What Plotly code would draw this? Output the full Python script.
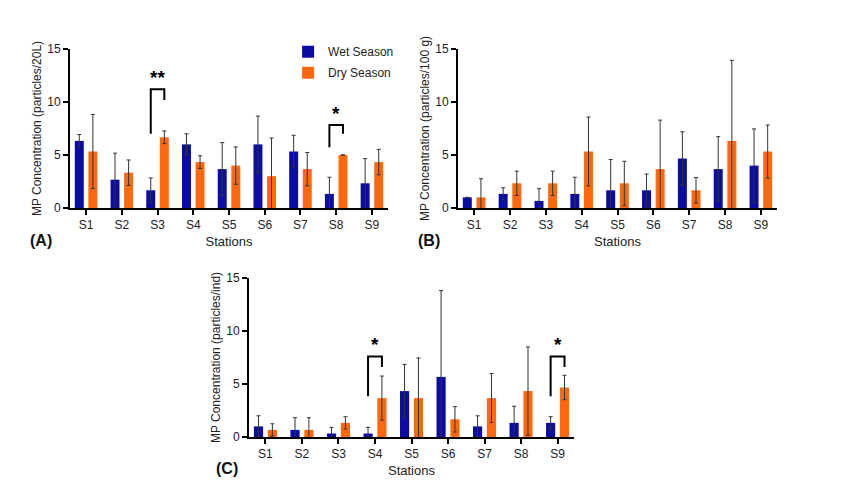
import plotly.graph_objects as go

stations = ["S1", "S2", "S3", "S4", "S5", "S6", "S7", "S8", "S9"]

# (A) water, particles/20L
wet_a = [6.33, 2.67, 1.67, 6.0, 3.67, 6.0, 5.33, 1.33, 2.33]
wet_a_err = [0.6, 2.5, 1.17, 1.0, 2.5, 2.67, 1.53, 1.57, 2.33]
dry_a = [5.33, 3.33, 6.67, 4.33, 4.0, 3.0, 3.67, 5.0, 4.33]
dry_a_err = [3.5, 1.2, 0.6, 0.6, 1.76, 3.6, 1.57, None, 1.2]

# (B) sediment, particles/100 g
wet_b = [1.0, 1.33, 0.67, 1.33, 1.67, 1.67, 4.67, 3.67, 4.0]
wet_b_err = [None, 0.58, 1.15, 1.57, 2.9, 1.53, 2.52, 3.06, 3.46]
dry_b = [1.0, 2.33, 2.33, 5.33, 2.33, 3.67, 1.67, 6.33, 5.33]
dry_b_err = [1.76, 1.15, 1.15, 3.25, 2.08, 4.62, 1.2, 7.6, 2.5]

# (C) biota, particles/ind
wet_c = [1.0, 0.67, 0.33, 0.33, 4.33, 5.67, 1.0, 1.33, 1.33]
wet_c_err = [1.0, 1.15, 0.58, 0.58, 2.52, 8.14, 1.0, 1.57, 0.58]
dry_c = [0.67, 0.67, 1.33, 3.67, 3.67, 1.67, 3.67, 4.33, 4.67]
dry_c_err = [0.58, 1.15, 0.58, 2.08, 3.79, 1.2, 2.31, 4.16, 1.15]

# significance brackets: panel, station index, left leg bottom, right leg bottom, top, label
brackets = [
    ("A", 2, 7.0, 10.2, 11.2, "**"),
    ("A", 7, 5.74, 7.0, 7.84, "*"),
    ("C", 3, 3.84, 6.6, 7.6, "*"),
    ("C", 8, 3.84, 6.6, 7.6, "*"),
]

WET = "#0b0ba6"
DRY = "#ff680f"
FONT = "Liberation Sans, Arial, sans-serif"

panels = [
    ("A", "x", "y", wet_a, wet_a_err, dry_a, dry_a_err, "MP Concentration (particles/20L)"),
    ("B", "x2", "y2", wet_b, wet_b_err, dry_b, dry_b_err, "MP Concentration (particles/100 g)"),
    ("C", "x3", "y3", wet_c, wet_c_err, dry_c, dry_c_err, "MP Concentration (particles/ind)"),
]

fig = go.Figure()
xs = list(range(len(stations)))
for name, xa, ya, wet, wet_err, dry, dry_err, ytitle in panels:
    first = name == "A"
    fig.add_trace(go.Bar(x=xs, y=wet, name="Wet Season", marker_color=WET,
                         marker_line_width=0, xaxis=xa, yaxis=ya, offsetgroup="wet",
                         legendgroup="wet", showlegend=first,
                         error_y=dict(type="data", array=wet_err, color="#333333",
                                      thickness=1, width=2)))
    fig.add_trace(go.Bar(x=xs, y=dry, name="Dry Season", marker_color=DRY,
                         marker_line_width=0, xaxis=xa, yaxis=ya, offsetgroup="dry",
                         legendgroup="dry", showlegend=first,
                         error_y=dict(type="data", array=dry_err, color="#333333",
                                      thickness=1, width=2)))

axis_common = dict(showline=True, linecolor="black", linewidth=2, ticks="outside",
                   ticklen=5, tickwidth=2, tickcolor="black", showgrid=False,
                   zeroline=False, automargin=False, tickfont=dict(size=12, color="#222"))

domains = {
    "A": ([70 / 860, 388 / 860], [1 - 208 / 496, 1 - 49 / 496]),
    "B": ([458 / 860, 777 / 860], [1 - 208 / 496, 1 - 49 / 496]),
    "C": ([249 / 860, 574 / 860], [1 - 437 / 496, 1 - 278 / 496]),
}
suffix = {"A": "", "B": "2", "C": "3"}
for name, xa, ya, wet, wet_err, dry, dry_err, ytitle in panels:
    s = suffix[name]
    xd, yd = domains[name]
    fig.update_layout(**{
        "xaxis" + s: dict(axis_common, domain=xd, anchor="y" + s, range=[-0.45, 8.45],
                          tickvals=xs, ticktext=stations,
                          title=dict(text="Stations", standoff=5,
                                     font=dict(size=13, color="#222"))),
        "yaxis" + s: dict(axis_common, domain=yd, anchor="x" + s, range=[0, 15],
                          tickvals=[0, 5, 10, 15],
                          title=dict(text=ytitle, standoff=3,
                                     font=dict(size=12, color="#222"))),
    })

# brackets and stars
for name, i, left_y, right_y, top_y, label in brackets:
    s = suffix[name]
    xl, xr = i - 0.19, i + 0.19
    fig.add_shape(type="path", xref="x" + s, yref="y" + s,
                  path=f"M {xl} {left_y} L {xl} {top_y} L {xr} {top_y} L {xr} {right_y}",
                  line=dict(color="black", width=2))
    fig.add_annotation(x=i, y=top_y, xref="x" + s, yref="y" + s, text=f"<b>{label}</b>",
                       showarrow=False, yanchor="bottom", yshift=-1,
                       font=dict(size=19, color="black"))

# panel letters
for label, px, py in [("(A)", 41, 240), ("(B)", 429, 240), ("(C)", 227, 468)]:
    fig.add_annotation(x=px / 860, y=1 - py / 496, xref="paper", yref="paper",
                       xanchor="center", yanchor="middle",
                       text=f"<b>{label}</b>", showarrow=False,
                       font=dict(size=16, color="#111"))

fig.update_layout(
    width=860, height=496,
    margin=dict(l=0, r=0, t=0, b=0),
    paper_bgcolor="white", plot_bgcolor="white",
    font=dict(family=FONT, color="#222"),
    barmode="group", bargap=0.24, bargroupgap=0.34,
    legend=dict(x=0.335, y=0.925, xanchor="left", yanchor="top",
                font=dict(size=12, color="#222"), bgcolor="rgba(0,0,0,0)",
                tracegroupgap=2),
    showlegend=True,
)

# the page's default body margin would shift the figure by 8px
fig.write_html("out.html", config={"displayModeBar": False},
               post_script="document.body.style.margin='0';")
